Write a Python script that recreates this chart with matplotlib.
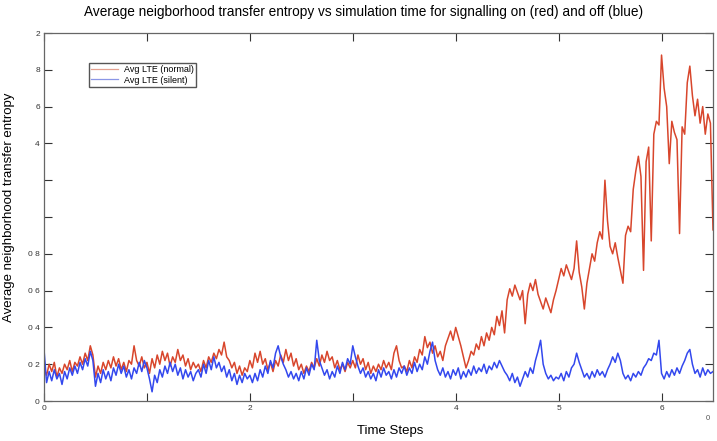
import numpy as np
import matplotlib
matplotlib.use('Agg')
import matplotlib.pyplot as plt
from matplotlib.lines import Line2D

# time axis: one sample every 0.025 units from 0 to 6.5
t_step = 0.025
t_end = 6.5

lte_normal = [
    0.18, 0.14, 0.20, 0.16, 0.21, 0.13, 0.18, 0.15, 0.20, 0.17, 0.22, 0.16, 0.21, 0.19, 0.24, 0.20, 0.26, 0.22, 0.30, 0.25,
    0.13, 0.19, 0.15, 0.21, 0.17, 0.22, 0.18, 0.24, 0.19, 0.23, 0.17, 0.21, 0.16, 0.22, 0.20, 0.30, 0.22, 0.19, 0.24, 0.18,
    0.21, 0.15, 0.23, 0.18, 0.25, 0.20, 0.27, 0.22, 0.26, 0.19, 0.24, 0.21, 0.28, 0.22, 0.25, 0.19, 0.23, 0.17, 0.21, 0.18,
    0.20, 0.16, 0.22, 0.18, 0.24, 0.21, 0.26, 0.23, 0.28, 0.25, 0.32, 0.24, 0.22, 0.18, 0.21, 0.15, 0.19, 0.14, 0.18, 0.16,
    0.22, 0.18, 0.26, 0.21, 0.27, 0.20, 0.23, 0.17, 0.21, 0.16, 0.22, 0.19, 0.25, 0.21, 0.28, 0.22, 0.26, 0.19, 0.23, 0.17,
    0.20, 0.15, 0.19, 0.16, 0.21, 0.18, 0.23, 0.19, 0.25, 0.21, 0.27, 0.22, 0.24, 0.18, 0.22, 0.17, 0.20, 0.16, 0.21, 0.18,
    0.22, 0.18, 0.25, 0.20, 0.23, 0.17, 0.21, 0.15, 0.19, 0.16, 0.20, 0.17, 0.22, 0.18, 0.21, 0.17, 0.26, 0.30, 0.22, 0.18,
    0.19, 0.16, 0.22, 0.18, 0.24, 0.21, 0.28, 0.25, 0.35, 0.29, 0.32, 0.26, 0.30, 0.24, 0.27, 0.22, 0.30, 0.34, 0.38, 0.33,
    0.40, 0.35, 0.30, 0.24, 0.18, 0.22, 0.27, 0.25, 0.31, 0.28, 0.35, 0.30, 0.37, 0.33, 0.40, 0.36, 0.46, 0.41, 0.49, 0.37,
    0.55, 0.61, 0.57, 0.63, 0.59, 0.55, 0.60, 0.42, 0.58, 0.64, 0.60, 0.66, 0.58, 0.54, 0.50, 0.56, 0.52, 0.48, 0.55, 0.60,
    0.66, 0.72, 0.68, 0.74, 0.70, 0.66, 0.72, 0.87, 0.70, 0.62, 0.50, 0.64, 0.72, 0.80, 0.76, 0.86, 0.92, 0.88, 1.20, 0.98,
    0.84, 0.80, 0.86, 0.78, 0.71, 0.64, 0.90, 0.95, 0.92, 1.15, 1.25, 1.33, 1.22, 0.71, 1.30, 1.38, 0.87, 1.45, 1.52, 1.50,
    1.88, 1.70, 1.60, 1.29, 1.52, 1.46, 1.42, 0.91, 1.49, 1.45, 1.73, 1.82, 1.66, 1.55, 1.64, 1.51, 1.60, 1.45, 1.56, 1.51,
    0.93,
]

lte_silent = [
    0.28, 0.10, 0.16, 0.11, 0.17, 0.12, 0.15, 0.09, 0.16, 0.12, 0.18, 0.14, 0.19, 0.15, 0.21, 0.17, 0.23, 0.19, 0.27, 0.22,
    0.08, 0.15, 0.10, 0.17, 0.12, 0.16, 0.11, 0.18, 0.14, 0.20, 0.15, 0.19, 0.13, 0.17, 0.12, 0.18, 0.15, 0.21, 0.16, 0.22,
    0.18, 0.12, 0.05, 0.14, 0.10, 0.17, 0.13, 0.19, 0.15, 0.21, 0.16, 0.20, 0.14, 0.18, 0.12, 0.17, 0.13, 0.16, 0.11, 0.15,
    0.17, 0.13, 0.20, 0.15, 0.22, 0.17, 0.24, 0.18, 0.21, 0.16, 0.19, 0.13, 0.17, 0.11, 0.15, 0.09, 0.14, 0.10, 0.15, 0.12,
    0.14, 0.10, 0.15, 0.11, 0.17, 0.13, 0.19, 0.15, 0.22, 0.18, 0.26, 0.30, 0.24, 0.20, 0.17, 0.13, 0.16, 0.12, 0.15, 0.11,
    0.16, 0.12, 0.18, 0.14, 0.20, 0.17, 0.33, 0.22, 0.18, 0.14, 0.17, 0.12, 0.16, 0.13, 0.19, 0.15, 0.21, 0.17, 0.23, 0.20,
    0.30, 0.24, 0.19, 0.15, 0.18, 0.13, 0.16, 0.12, 0.15, 0.11, 0.17, 0.13, 0.18, 0.14, 0.16, 0.12, 0.17, 0.13, 0.18, 0.15,
    0.19, 0.14, 0.18, 0.15, 0.21, 0.16, 0.20, 0.17, 0.24, 0.20, 0.27, 0.32, 0.22, 0.17, 0.14, 0.18, 0.13, 0.16, 0.12, 0.17,
    0.14, 0.18, 0.12, 0.16, 0.13, 0.17, 0.14, 0.19, 0.15, 0.18, 0.16, 0.20, 0.15, 0.19, 0.17, 0.21, 0.18, 0.22, 0.19, 0.16,
    0.14, 0.11, 0.15, 0.10, 0.13, 0.08, 0.12, 0.16, 0.13, 0.18, 0.15, 0.22, 0.27, 0.33, 0.20, 0.15, 0.12, 0.14, 0.11, 0.13,
    0.12, 0.15, 0.11, 0.16, 0.13, 0.18, 0.20, 0.26, 0.21, 0.17, 0.13, 0.15, 0.12, 0.16, 0.13, 0.17, 0.14, 0.16, 0.13, 0.17,
    0.20, 0.24, 0.21, 0.26, 0.22, 0.15, 0.12, 0.14, 0.11, 0.15, 0.13, 0.16, 0.14, 0.18, 0.20, 0.23, 0.22, 0.26, 0.25, 0.33,
    0.15, 0.12, 0.16, 0.13, 0.17, 0.14, 0.18, 0.15, 0.19, 0.22, 0.26, 0.28, 0.20, 0.15, 0.17, 0.13, 0.18, 0.14, 0.17, 0.15,
    0.16,
]

x_ticks = [0, 1, 2, 3, 4, 5, 6]
x_tick_labels = ['0', '', '2', '', '4', '5', '6']
y_ticks = [0, 0.2, 0.4, 0.6, 0.8, 1.0, 1.2, 1.4, 1.6, 1.8, 2.0]
y_tick_labels = ['0', '0 2', '0 4', '0 6', '0 8', '', '', '4', '6', '8', '2']

red = '#d8462c'
blue = '#3348ee'
grey = '#666666'

plt.rcParams['font.family'] = ['Liberation Sans', 'DejaVu Sans']

t = np.arange(len(lte_normal)) * t_step

fig = plt.figure(figsize=(7.17, 4.41), dpi=100)
ax = fig.add_axes([44 / 717, 40 / 441, 669 / 717, 368 / 441])

ax.plot(t, lte_normal, color=red, lw=1.1)
ax.plot(t, lte_silent, color=blue, lw=1.1)

ax.set_xlim(0, t_end)
ax.set_ylim(0, 2)
ax.set_xticks(x_ticks)
ax.set_xticklabels(x_tick_labels)
ax.set_yticks(y_ticks)
ax.set_yticklabels(y_tick_labels)
ax.tick_params(direction='in', length=6, width=0.8, color='#333333',
               labelsize=6, labelcolor='#333333', top=True, right=True, pad=3)
for s in ax.spines.values():
    s.set_color(grey)
    s.set_linewidth(0.9)

# legend swatches are drawn pale, as in the original
handles = [Line2D([], [], color='#e3a08f', lw=0.9),
           Line2D([], [], color='#8a96e6', lw=0.9)]
ax.legend(handles, ['Avg LTE (normal)', 'Avg LTE (silent)'],
          loc='upper left', bbox_to_anchor=(0.06, 0.932), fontsize=6.5,
          frameon=True, fancybox=False, edgecolor='#555555', framealpha=1,
          handlelength=3, borderpad=0.3, labelspacing=0.15, handletextpad=0.6)

fig.text(0.507, 0.972, 'Average neigborhood transfer entropy vs simulation time for signalling on (red) and off (blue)',
         ha='center', va='center', fontsize=9.8)
fig.text(0.012, 1 - 207 / 441, 'Average neighborhood transfer entropy', rotation=90,
         ha='center', va='center', fontsize=9.5)
fig.text(390 / 717, 1 - 431 / 441, 'Time Steps', ha='center', va='center', fontsize=9.5)
fig.text(708 / 717, 1 - 418 / 441, '0', ha='center', va='center', fontsize=5.5, color='#555555')

fig.savefig('out.png', dpi=100)
